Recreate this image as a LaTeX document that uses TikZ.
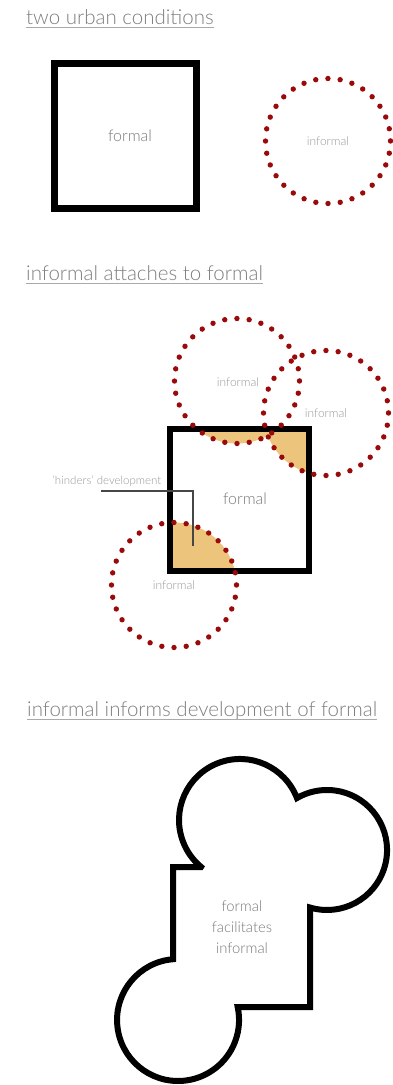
\documentclass[tikz,border=0pt]{standalone}
\usepackage{fontspec}
\setmainfont{Lato Light}
\definecolor{dotred}{RGB}{155,10,10}
\definecolor{sand}{RGB}{237,196,124}
\definecolor{titlegray}{RGB}{125,125,125}
\definecolor{linegray}{RGB}{170,170,170}
\definecolor{labelgray}{RGB}{120,120,120}
\definecolor{softgray}{RGB}{150,150,150}
\definecolor{leadgray}{RGB}{70,70,70}
\begin{document}
\begin{tikzpicture}[x=1pt,y=-1pt,
  title/.style={anchor=base west, inner sep=0pt, text=titlegray, font=\fontsize{20.5}{24}\selectfont},
  uline/.style={draw=linegray, line width=0.9pt},
  formalbox/.style={draw=black, line width=6.5pt},
  dotring/.style={draw=dotred, line width=5.4pt, line cap=round, dash pattern=on 0pt off 12.27pt},
  biglabel/.style={text=labelgray, inner sep=0pt, font=\fontsize{16}{19}\selectfont},
  smalllabel/.style={text=softgray, inner sep=0pt, font=\fontsize{12}{14}\selectfont},
  leader/.style={draw=leadgray, line width=2pt},
  blob/.style={draw=black, line width=6pt, line join=miter},
  overlap/.style={fill=sand}]
\useasboundingbox (0,0) rectangle (392,1085);

% ---------- two urban conditions ----------
\node[title] (t1) at (26,24) {two urban conditions};
\draw[uline] ([yshift=-3pt]t1.base west) -- ([yshift=-3pt]t1.base east);

\draw[formalbox] (54.3,63.3) rectangle (196.7,208.7);
\node[biglabel] (f1) at (130,136) {formal};

\draw[dotring] (328,141) circle[radius=62.5];
\node[smalllabel] (i1) at (328,141) {informal};

% ---------- informal attaches to formal ----------
\node[title] (t2) at (26,280) {informal attaches to formal};
\draw[uline] ([yshift=-3pt]t2.base west) -- ([yshift=-3pt]t2.base east);

\begin{scope}
  \clip (170,429) rectangle (309,571);
  \fill[overlap] (237,381) circle[radius=62.5];
  \fill[overlap] (326,413) circle[radius=62.5];
  \fill[overlap] (174,585) circle[radius=62.5];
\end{scope}
\draw[formalbox] (170,429) rectangle (309,571);
\node[biglabel] (f2) at (245,499) {formal};

\node[smalllabel, font=\fontsize{11.5}{14}\selectfont] (hd) at (107,481) {'hinders' development};
\coordinate (hdend) at (193,546);
\draw[leader] (101,491) -| (hdend);

\draw[dotring] (237,381) circle[radius=62.5];
\draw[dotring] (326,413) circle[radius=62.5];
\draw[dotring] (174,585) circle[radius=62.5];
\node[smalllabel] (ia) at (238,382) {informal};
\node[smalllabel] (ib) at (326,413) {informal};
\node[smalllabel] (ic) at (174,585) {informal};

% ---------- informal informs development of formal ----------
\node[title] (t3) at (27,716) {informal informs development of formal};
\draw[uline] ([yshift=-3pt]t3.base west) -- ([yshift=-3pt]t3.base east);

\draw[blob] (201,867) -- (173,867) -- (173,959.2)
  arc[start angle=-94.76, end angle=-372.3, radius=61]
  -- (310,1007) -- (310,907.5)
  arc[start angle=106.5, end angle=-120.1, radius=60]
  arc[start angle=-21.05, end angle=-230.3, radius=61] -- cycle;
\node[biglabel, align=center, font=\fontsize{14.8}{21}\selectfont] (f3) at (242,927) {formal\\facilitates\\informal};
\end{tikzpicture}
\end{document}
